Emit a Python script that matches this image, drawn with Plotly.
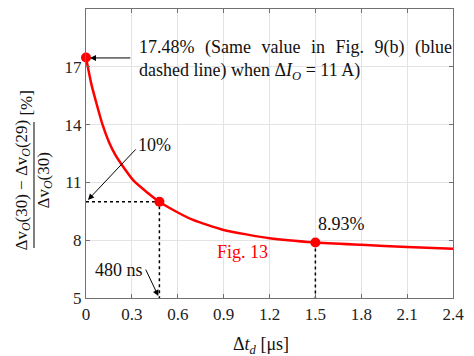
import plotly.graph_objects as go

# Data
td = [0, 0.035, 0.065, 0.108, 0.15, 0.19, 0.235, 0.31, 0.40, 0.48, 0.55,
      0.7, 0.9, 1.2, 1.5, 1.8, 2.1, 2.4]
ratio = [17.48, 16.1, 15.2, 14.0, 13.1, 12.45, 11.9, 11.1, 10.48, 10.0,
         9.66, 9.05, 8.53, 8.10, 7.88, 7.76, 7.65, 7.56]
mark_x = [0, 0.48, 1.5]
mark_y = [17.48, 10.0, 7.88]
x_ticks = [0, 0.3, 0.6, 0.9, 1.2, 1.5, 1.8, 2.1, 2.4]
y_ticks = [5, 8, 11, 14, 17, 20]

FONT = "Liberation Serif"
fig = go.Figure()

# dotted guide lines (from the marked points)
dot = dict(color="black", width=1.5, dash="dot")
fig.add_trace(go.Scatter(x=[x_ticks[0], mark_x[1], mark_x[1]],
                         y=[mark_y[1], mark_y[1], y_ticks[0]],
                         mode="lines", line=dot, hoverinfo="skip"))
fig.add_trace(go.Scatter(x=[mark_x[2], mark_x[2]], y=[mark_y[2], y_ticks[0]],
                         mode="lines", line=dot, hoverinfo="skip"))

fig.add_trace(go.Scatter(x=td, y=ratio, mode="lines",
                         line=dict(color="#ff0000", width=2.5, shape="spline", smoothing=0.5)))
fig.add_trace(go.Scatter(x=mark_x, y=mark_y, mode="markers", cliponaxis=False,
                         marker=dict(color="#ff0000", size=10)))

axis_common = dict(showgrid=True, gridcolor="#e3e3e3", gridwidth=1,
                   showline=True, linecolor="#707070", linewidth=1.2, mirror="ticks",
                   ticks="inside", ticklen=4, tickcolor="#707070",
                   tickfont=dict(family=FONT, size=17, color="#222222"),
                   zeroline=False)
fig.update_xaxes(range=[0, 2.4], tickvals=x_ticks,
                 ticktext=[f"{v:g}" for v in x_ticks], **axis_common)
fig.update_yaxes(range=[5, 20], tickvals=y_ticks, **axis_common)

ann = []
tf = dict(family=FONT, size=18, color="#111111")
arrow = dict(text="", showarrow=True, arrowhead=2, arrowsize=1.2, arrowwidth=1,
             arrowcolor="black", xref="x", yref="y", axref="x", ayref="y")
# 17.48% annotation (first line justified wider, as in the reference)
gap = "\u00a0\u200a\u00a0"
line1 = gap.join(["17.48%", "(Same", "value", "in", "Fig.", "9(b)", "(blue"])
ann.append(dict(x=0.334, y=17.35, xref="x", yref="y", xanchor="left", yanchor="middle",
                align="left", showarrow=False, font=tf,
                text=line1 + "<br>dashed line) when Δ<i>I</i><sub><i>O</i></sub> = 11 A)"))
ann.append(dict(x=0.026, y=17.46, ax=0.30, ay=17.46, **arrow))
# 10%
ann.append(dict(x=0.445, y=12.94, xref="x", yref="y", showarrow=False, font=tf, text="10%"))
ann.append(dict(x=0.013, y=10.09, ax=0.334, ay=12.79, **arrow))
# 8.93%
ann.append(dict(x=1.671, y=8.84, xref="x", yref="y", showarrow=False, font=tf, text="8.93%"))
# Fig. 13
ann.append(dict(x=1.023, y=7.39, xref="x", yref="y", showarrow=False,
                font=dict(family=FONT, size=18, color="#ff0000"), text="Fig. 13"))
# 480 ns
ann.append(dict(x=0.216, y=6.45, xref="x", yref="y", showarrow=False, font=tf, text="480 ns"))
ann.append(dict(x=0.473, y=5.1, ax=0.386, ay=6.55, **arrow))
# x-axis title
ann.append(dict(x=0.477, y=-0.163, xref="paper", yref="paper", showarrow=False, yanchor="middle",
                font=tf, text="Δ<i>t</i><sub><i>d</i></sub> [μs]"))
# y-axis title as a fraction
yf = dict(family=FONT, size=17, color="#111111")
ann.append(dict(x=-0.173, y=0.391, xref="paper", yref="paper", showarrow=False, textangle=-90,
                font=yf, xanchor="center", yanchor="middle",
                text="Δv<sub><i>O</i></sub>(30) − Δv<sub><i>O</i></sub>(29)"))
ann.append(dict(x=-0.1117, y=0.4066, xref="paper", yref="paper", showarrow=False, textangle=-90,
                font=yf, xanchor="center", yanchor="middle",
                text="Δv<sub><i>O</i></sub>(30)"))
ann.append(dict(x=-0.161, y=0.676, xref="paper", yref="paper", showarrow=False, textangle=-90,
                font=yf, xanchor="center", yanchor="middle", text="[%]"))

fig.update_layout(
    width=474, height=356,
    margin=dict(l=86, r=21, t=9, b=58),
    paper_bgcolor="white", plot_bgcolor="white",
    font=dict(family=FONT),
    showlegend=False,
    annotations=ann,
    shapes=[dict(type="line", xref="paper", yref="paper", x0=-0.1417, x1=-0.1417,
                 y0=0.173, y1=0.609, line=dict(color="black", width=1))],
)

fig.write_html("out.html")
